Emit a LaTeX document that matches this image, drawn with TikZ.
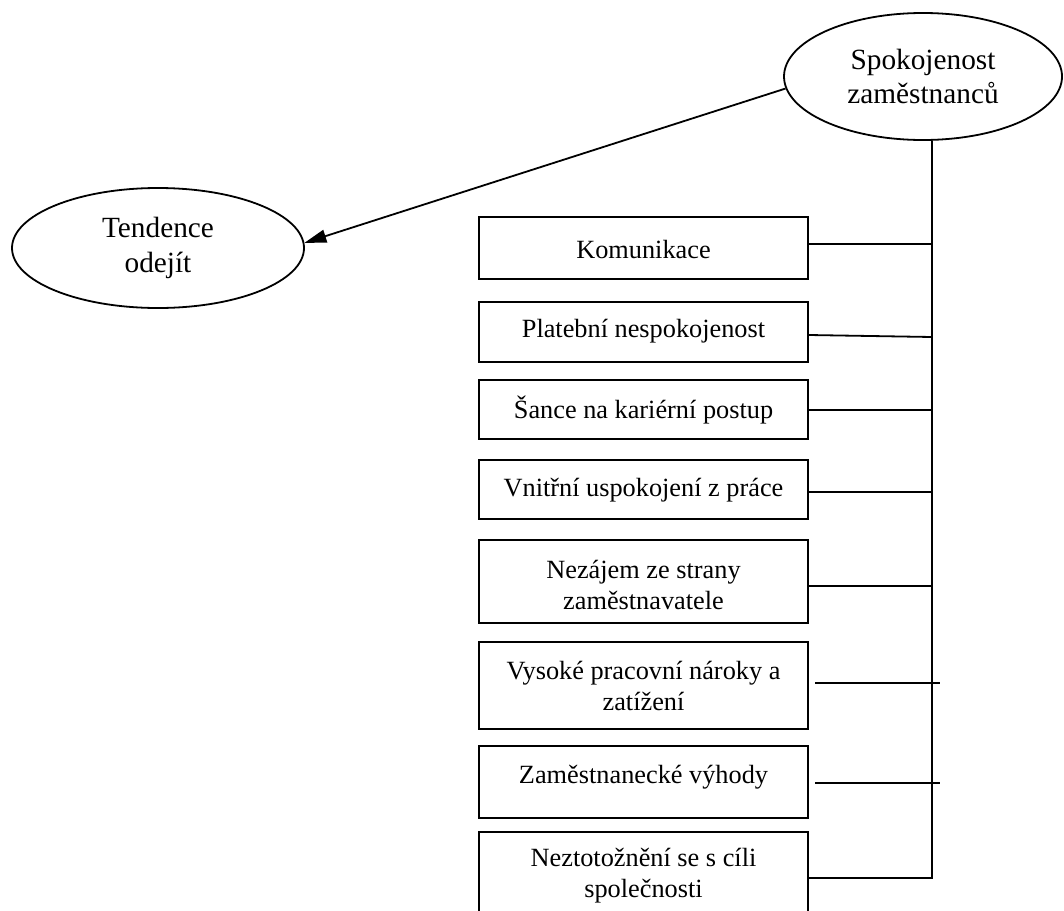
\documentclass[tikz,border=0pt]{standalone}
\usepackage{fontspec}
\setmainfont{Liberation Serif}
\usetikzlibrary{shapes.geometric,arrows.meta}
\newcommand{\diafont}{\fontsize{26.3}{31}\selectfont}
\newcommand{\ovalfont}{\fontsize{29.3}{34.5}\selectfont}
\begin{document}
\begin{tikzpicture}[x=1pt,y=-1pt,
  line/.style={line width=1.8pt},
  box/.style={draw, line width=1.8pt, rectangle, minimum width=329pt, inner sep=0pt},
  oval/.style={draw, line width=1.8pt, ellipse, inner sep=0pt, align=center, font=\ovalfont},
  lbl/.style={align=center, inner sep=0pt, font=\diafont},
]
\useasboundingbox (0,0) rectangle (1064,910);
\clip (0,0) rectangle (1064,910);

% ellipses
\node[oval, minimum width=278pt, minimum height=127pt] (top) at (923,76.5)
  {Spokojenost\\zaměstnanců};
\node[oval, minimum width=292pt, minimum height=120pt] (left) at (158,248)
  {Tendence\\odejít};

% factor boxes
\node[box, minimum height=62pt] (b1) at (643.5,248) {};
\node[box, minimum height=60pt] (b2) at (643.5,332) {};
\node[box, minimum height=59pt] (b3) at (643.5,409.5) {};
\node[box, minimum height=59pt] (b4) at (643.5,489.5) {};
\node[box, minimum height=83pt] (b5) at (643.5,581.5) {};
\node[box, minimum height=87pt] (b6) at (643.5,685.5) {};
\node[box, minimum height=72pt] (b7) at (643.5,782) {};
\node[box, minimum height=90pt] (b8) at (643.5,877) {};

% box texts
\node[lbl] (t1) at (643.5,249) {Komunikace};
\node[lbl] (t2) at (643.5,331) {Platební nespokojenost};
\node[lbl] (t3) at (643.5,410) {Šance na kariérní postup};
\node[lbl] (t4) at (643.5,490) {Vnitřní uspokojení z práce};
\node[lbl] (t5) at (643.5,585) {Nezájem ze strany\\zaměstnavatele};
\node[lbl] (t6) at (643.5,686) {Vysoké pracovní nároky a\\zatížení};
\node[lbl] (t7) at (643.5,777) {Zaměstnanecké výhody};
\node[lbl] (t8) at (643.5,876) {Neztotožnění se s cíli\\společnosti};

% points on the vertical spine
\coordinate (s0) at ([xshift=9pt]top.south);
\coordinate (s1) at (932,244);
\coordinate (s2) at (932,337);
\coordinate (s3) at (932,410);
\coordinate (s4) at (932,492);
\coordinate (s5) at (932,586);
\coordinate (s8) at (932,878);
\coordinate (e6a) at (815,683);
\coordinate (e6b) at (940,683);
\coordinate (e7a) at (815,783);
\coordinate (e7b) at (940,783);

% spine and branches
\draw[line] (s0) -- (s8) -- (b8.east |- s8);
\draw[line] (b1.east |- s1) -- (s1);
\draw[line] ([yshift=-3pt]b2.east) -- (s2);
\draw[line] (b3.east |- s3) -- (s3);
\draw[line] (b4.east |- s4) -- (s4);
\draw[line] (b5.east |- s5) -- (s5);
\draw[line] (e6a) -- (e6b);
\draw[line] (e7a) -- (e7b);

% influence arrow
\draw[line, -{Triangle[length=22pt,width=13pt]}] (top.185) -- (left.2);
\end{tikzpicture}
\end{document}
